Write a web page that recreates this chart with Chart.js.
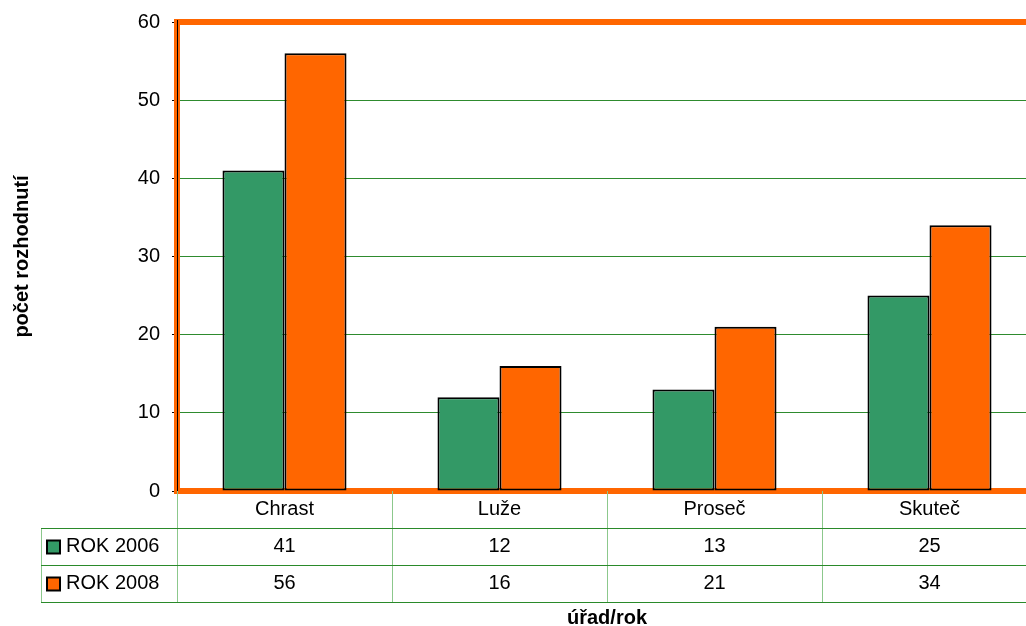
<!DOCTYPE html>
<html>
<head>
<meta charset="utf-8">
<script src="https://cdn.jsdelivr.net/npm/chart.js@4/dist/chart.umd.min.js"></script>
<style>
  html, body { margin: 0; padding: 0; overflow: hidden; background: #fff; }
  #wrap { width: 1045px; height: 626px; }
</style>
</head>
<body>
<div id="wrap"><canvas id="c" width="1045" height="626"></canvas></div>
<script>
// data
const categories = ['Chrast', 'Luže', 'Proseč', 'Skuteč'];
const rok2006 = [41, 12, 13, 25];
const rok2008 = [56, 16, 21, 34];
const seriesNames = ['ROK 2006', 'ROK 2008'];
const yTicks = [0, 10, 20, 30, 40, 50, 60];

const GREEN = '#339966';
const ORANGE = '#FF6600';
const FONT = '"Liberation Sans", Arial, sans-serif';

// orange frame round the plot area, plus the black value axis line
const framePlugin = {
    id: 'frame',
    beforeDatasetsDraw(chart) {
        const { ctx, chartArea: a } = chart;
        ctx.save();
        ctx.strokeStyle = ORANGE;
        ctx.lineWidth = 6;
        ctx.strokeRect(a.left, a.top, a.right - a.left, a.bottom - a.top);
        ctx.strokeStyle = '#000';
        ctx.lineWidth = 1;
        ctx.beginPath();
        ctx.moveTo(a.left + 0.5, a.top - 2);
        ctx.lineTo(a.left + 0.5, a.bottom);
        ctx.stroke();
        ctx.restore();
    }
};

// data table under the plot (category row + one row per series)
const tablePlugin = {
    id: 'dataTable',
    afterDraw(chart) {
        const { ctx, chartArea: a } = chart;
        const x = chart.scales.x;
        const half = (x.getPixelForValue(1) - x.getPixelForValue(0)) / 2;
        const rowH = 37;
        const top = a.bottom;
        const leftEdge = 41;
        const rows = [rok2006, rok2008];
        const colors = [GREEN, ORANGE];

        ctx.save();
        // vertical lines
        ctx.strokeStyle = '#8cc88c';
        ctx.lineWidth = 1;
        ctx.beginPath();
        for (let i = 0; i <= categories.length; i++) {
            const px = Math.round(x.getPixelForValue(i) - half) + 0.5;
            ctx.moveTo(px, top);
            ctx.lineTo(px, top + rowH * 3);
        }
        ctx.moveTo(leftEdge + 0.5, top + rowH);
        ctx.lineTo(leftEdge + 0.5, top + rowH * 3);
        ctx.stroke();

        // horizontal lines
        ctx.strokeStyle = '#2a8a2a';
        ctx.beginPath();
        for (let r = 1; r <= 3; r++) {
            const py = Math.round(top + rowH * r) + 0.5;
            ctx.moveTo(leftEdge, py);
            ctx.lineTo(chart.width, py);
        }
        ctx.stroke();

        ctx.fillStyle = '#000';
        ctx.font = '20px ' + FONT;
        ctx.textAlign = 'center';
        ctx.textBaseline = 'middle';
        categories.forEach((c, i) => {
            ctx.fillText(c, x.getPixelForValue(i), top + rowH / 2);
        });
        rows.forEach((vals, r) => {
            const cy = top + rowH * (r + 1) + rowH / 2;
            vals.forEach((v, i) => {
                ctx.fillText(String(v), x.getPixelForValue(i), cy);
            });
        });

        // legend keys in the first column
        ctx.textAlign = 'left';
        seriesNames.forEach((name, r) => {
            const cy = top + rowH * (r + 1) + rowH / 2;
            ctx.fillStyle = colors[r];
            ctx.fillRect(47, cy - 6, 13, 13);
            ctx.strokeStyle = '#000';
            ctx.lineWidth = 2;
            ctx.strokeRect(47, cy - 6, 13, 13);
            ctx.fillStyle = '#000';
            ctx.fillText(name, 66, cy);
        });

        // category axis title
        ctx.font = 'bold 20px ' + FONT;
        ctx.textAlign = 'center';
        ctx.fillText('úřad/rok', (a.left + a.right) / 2, 618);
        ctx.restore();
    }
};

new Chart(document.getElementById('c'), {
    type: 'bar',
    data: {
        labels: categories,
        datasets: [
            {
                label: seriesNames[0],
                data: rok2006,
                backgroundColor: GREEN,
                borderColor: '#000',
                borderWidth: 2,
                borderSkipped: false
            },
            {
                label: seriesNames[1],
                data: rok2008,
                backgroundColor: ORANGE,
                borderColor: '#000',
                borderWidth: 2,
                borderSkipped: false
            }
        ]
    },
    options: {
        responsive: false,
        animation: false,
        events: [],
        layout: { padding: { top: 22, bottom: 135, left: 0, right: 8 } },
        categoryPercentage: 0.577,
        barPercentage: 1,
        plugins: {
            legend: { display: false },
            tooltip: { enabled: false }
        },
        scales: {
            x: {
                display: false
            },
            y: {
                min: 0,
                max: 60,
                afterBuildTicks: (scale) => {
                    scale.ticks = yTicks.map(v => ({ value: v }));
                },
                afterFit: (scale) => {
                    scale.width = 177;
                    scale.paddingTop = 0;
                    scale.paddingBottom = 0;
                },
                border: { display: false },
                grid: {
                    color: (ctx) => (ctx.tick && (ctx.tick.value === 0 || ctx.tick.value === 60)) ? 'rgba(0,0,0,0)' : '#2e8b2e',
                    tickColor: '#000',
                    tickLength: 5,
                    lineWidth: 1
                },
                ticks: {
                    color: '#000',
                    padding: 12,
                    font: { family: FONT, size: 20 }
                },
                title: {
                    display: true,
                    text: 'počet rozhodnutí',
                    color: '#000',
                    padding: { top: 10, bottom: 0 },
                    font: { family: FONT, size: 20, weight: 'bold' }
                }
            }
        }
    },
    plugins: [framePlugin, tablePlugin]
});
</script>
</body>
</html>
